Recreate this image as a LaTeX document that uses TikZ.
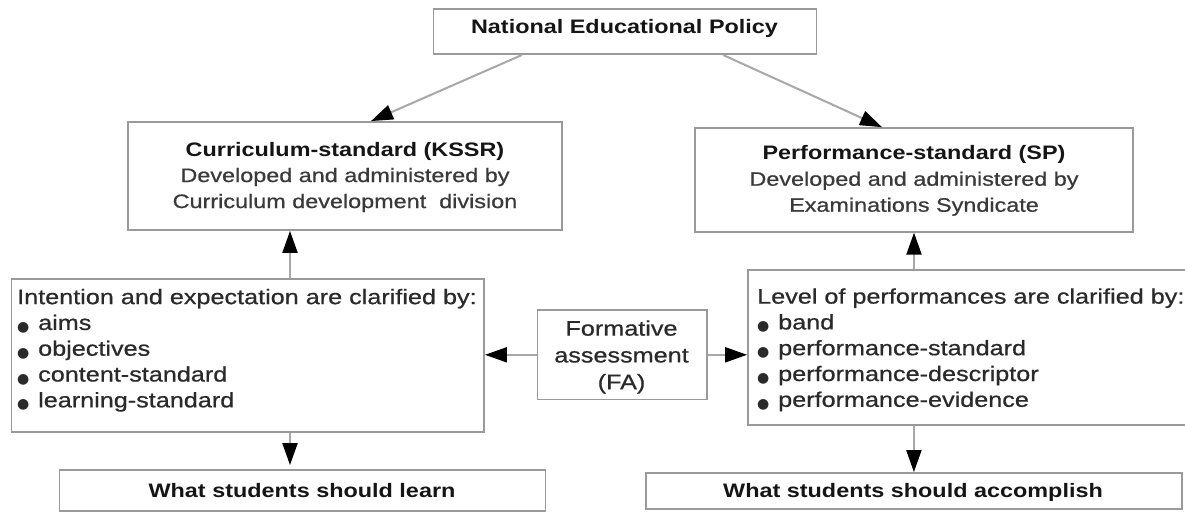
\documentclass[tikz,border=0pt]{standalone}
\usepackage{fontspec}
\usepackage{graphicx}
\setmainfont{Liberation Sans}[FakeStretch=1.2]
\newfontfamily\heavyfont{Liberation Sans}[FakeStretch=1.2,FakeBold=0.7]
\newfontfamily\symfont{DejaVu Sans}
\usetikzlibrary{arrows.meta,calc}

\definecolor{boxline}{HTML}{9A9A9A}
\definecolor{linkline}{HTML}{A8A8A8}
\definecolor{headtext}{HTML}{151515}
\definecolor{bodytext}{HTML}{3A3A3A}
\definecolor{listtext}{HTML}{2A2A2A}

% bullet used in the two lists
\newcommand{\itembullet}{\makebox[21pt][l]{\raisebox{-1.5pt}{\fontsize{14}{14}\selectfont\symfont ●}}}

\begin{document}
\begin{tikzpicture}[x=1pt,y=-1pt,
  box/.style={draw=boxline, line width=1.8pt, fill=white, inner sep=0pt},
  link/.style={draw=linkline, line width=2pt,
    -{Triangle[length=22pt,width=15pt,color=black]}},
  headtxt/.style={inner sep=0pt, text=headtext,
    font=\fontsize{19.5}{26}\selectfont\bfseries},
  bodytxt/.style={inner sep=0pt, text=bodytext, align=center,
    font=\fontsize{19.5}{26}\selectfont\heavyfont},
  listtxt/.style={inner sep=0pt, text=listtext, align=left,
    font=\fontsize{21}{25.8}\selectfont\heavyfont}
]
\useasboundingbox[fill=white] (0,0) rectangle (1185,512);

% boxes
\node[box, minimum width=383pt, minimum height=44.7pt] (nep) at (625,31.7) {};
\node[box, minimum width=434pt, minimum height=108pt] (kssr) at (345,176) {};
\node[box, minimum width=438pt, minimum height=103.7pt] (sp) at (914,179.9) {};
\node[box, minimum width=472.5pt, minimum height=152.4pt] (llist) at (247.8,355.5) {};
\node[box, minimum width=169.2pt, minimum height=89.5pt] (fa) at (622.1,354.8) {};
\node[box, minimum width=442pt, minimum height=155pt] (rlist) at (969,347.5) {};
\node[box, minimum width=486pt, minimum height=41pt] (learn) at (302.4,490.5) {};
\node[box, minimum width=535.7pt, minimum height=36pt] (acc) at (913.9,491) {};

% texts
\node[headtxt, anchor=base] (nept) at (624.5,33.7) {National Educational Policy};
\node[bodytxt, anchor=north] (kssrt) at (345,141.7)
  {{\normalfont\bfseries\color{headtext}Curriculum-standard (KSSR)}\\Developed and administered by\\Curriculum development\ \ division};
\node[bodytxt, anchor=north] (spt) at (914,145.4)
  {{\normalfont\bfseries\color{headtext}Performance-standard (SP)}\\Developed and administered by\\Examinations Syndicate};
\node[listtxt, anchor=north west] (llistt) at (17,288.7)
  {Intention and expectation are clarified by:\\
   \itembullet aims\\
   \itembullet objectives\\
   \itembullet content-standard\\
   \itembullet learning-standard};
\node[listtxt, anchor=north west] (rlistt) at (757,288.2)
  {Level of performances are clarified by:\\
   \itembullet band\\
   \itembullet performance-standard\\
   \itembullet performance-descriptor\\
   \itembullet performance-evidence};
\node[listtxt, align=center, anchor=north, font=\fontsize{21}{26.8}\selectfont\heavyfont] (fat) at (621.5,320.2)
  {Formative\\assessment\\(FA)};
\node[headtxt, anchor=base] (learnt) at (302,497) {What students should learn};
\node[headtxt, anchor=base] (acct) at (913,497) {What students should accomplish};

% connectors
\draw[link] ([xshift=-103pt]nep.south) -- ([xshift=26pt]kssr.north);
\draw[link] ([xshift=98pt]nep.south) -- ([xshift=-32pt]sp.north);

\coordinate (lup) at ([xshift=42.2pt]llist.north);
\coordinate (ldn) at ([xshift=42.2pt]llist.south);
\draw[link] (lup) -- (lup |- kssr.south);
\draw[link, shorten >=4pt] (ldn) -- (ldn |- learn.north);
\draw[link] (rlist.north -| sp.south) -- (sp.south);
\draw[link] (rlist.south -| acc.north) -- (acc.north);

\draw[link] (fa.west) -- (fa.west -| llist.east);
\draw[link] (fa.east) -- (fa.east -| rlist.west);
\end{tikzpicture}
\end{document}
